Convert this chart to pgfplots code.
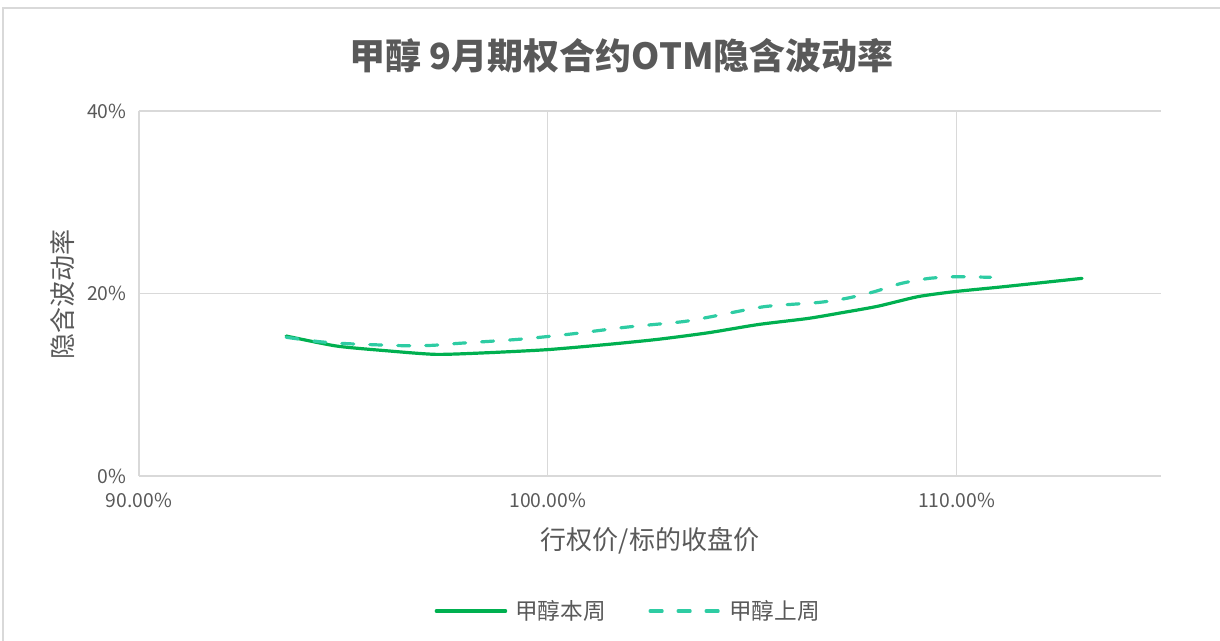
\documentclass[border=0pt]{standalone}
\usepackage{pgfplots}
\pgfplotsset{compat=1.18}
\usepackage{fontspec}
\setmainfont{Noto Sans CJK SC}
\definecolor{txt}{HTML}{595959}
\definecolor{gridc}{HTML}{D9D9D9}
\definecolor{cur}{RGB}{0,176,80}
\definecolor{prev}{RGB}{46,204,163}

\begin{document}
\begin{tikzpicture}
% page = 1220x641 px at 0.75pt/px, axis box lower-left at px (139,476)
\path[use as bounding box] (-104.25pt,-123.75pt) rectangle (810.75pt,357pt);
\draw[gridc, line width=1pt] (-102pt,-140pt) rectangle (830pt,351pt);
\node[text=txt, font=\fontsize{27}{30}\selectfont\bfseries] at (362pt,315pt)
  {甲醇 9月期权合约OTM隐含波动率};
\begin{axis}[
    at={(0,0)}, anchor=south west,
    scale only axis,
    width=766.5pt, height=273.75pt,
    xmin=90, xmax=115, ymin=0, ymax=40,
    xtick={90,100,110}, xticklabels={90.00\%,100.00\%,110.00\%},
    ytick={0,20,40}, yticklabels={0\%,20\%,40\%},
    axis x line*=bottom, axis y line*=left,
    axis line style={gridc, line width=1pt},
    x axis line style={-}, y axis line style={-},
    major tick length=0pt,
    grid=major, major grid style={gridc, line width=1pt},
    ticklabel style={text=txt, font=\fontsize{14.5}{16}\selectfont},
    /pgf/number format/assume math mode=true,
    xticklabel style={yshift=-9pt},
    yticklabel style={xshift=-6pt},
    xlabel={行权价/标的收盘价},
    ylabel={隐含波动率},
    label style={text=txt, font=\fontsize{19.5}{22}\selectfont},
    xlabel style={at={(axis description cs:0.5,-0.178)}, anchor=center},
    ylabel style={at={(axis description cs:-0.0744,0.496)}, anchor=center, rotate=0},
    legend columns=2,
    legend style={draw=none, fill=none, text=txt, font=\fontsize{17}{20}\selectfont,
      at={(axis description cs:0.4790,-0.37)}, anchor=center,
      /tikz/every odd column/.append style={column sep=4pt},
      /tikz/every even column/.append style={column sep=30pt}},
    legend image code/.code={\draw[#1] (0pt,0pt) -- (52pt,0pt);},
]
\addplot[cur, line width=2.4pt, smooth, tension=0.4, line cap=round] coordinates {
  (93.6,15.34) (94.82,14.25) (96.04,13.73) (97.26,13.33) (98.48,13.5)
  (100.0,13.85) (101.49,14.43) (102.7,14.98) (103.93,15.7) (105.15,16.6)
  (106.37,17.27) (107.2,17.9) (108.07,18.6) (109.05,19.65) (109.94,20.2)
  (111.16,20.75) (113.07,21.66)
};
\addlegendentry{甲醇本周}
\addplot[prev, line width=2.4pt, smooth, tension=0.4, line cap=round,
  dash pattern=on 9pt off 12pt] coordinates {
  (93.6,15.2) (94.41,14.72) (95.1,14.5) (96.45,14.28) (97.18,14.32)
  (97.83,14.54) (99.29,14.98) (100.55,15.55) (101.9,16.3) (103.28,16.9)
  (103.93,17.4) (105.3,18.56) (106.65,19.03) (107.34,19.5) (107.99,20.2)
  (108.64,21.1) (109.33,21.66) (110.02,21.84) (110.83,21.77)
};
\addlegendentry{甲醇上周}
\end{axis}
\end{tikzpicture}
\end{document}
